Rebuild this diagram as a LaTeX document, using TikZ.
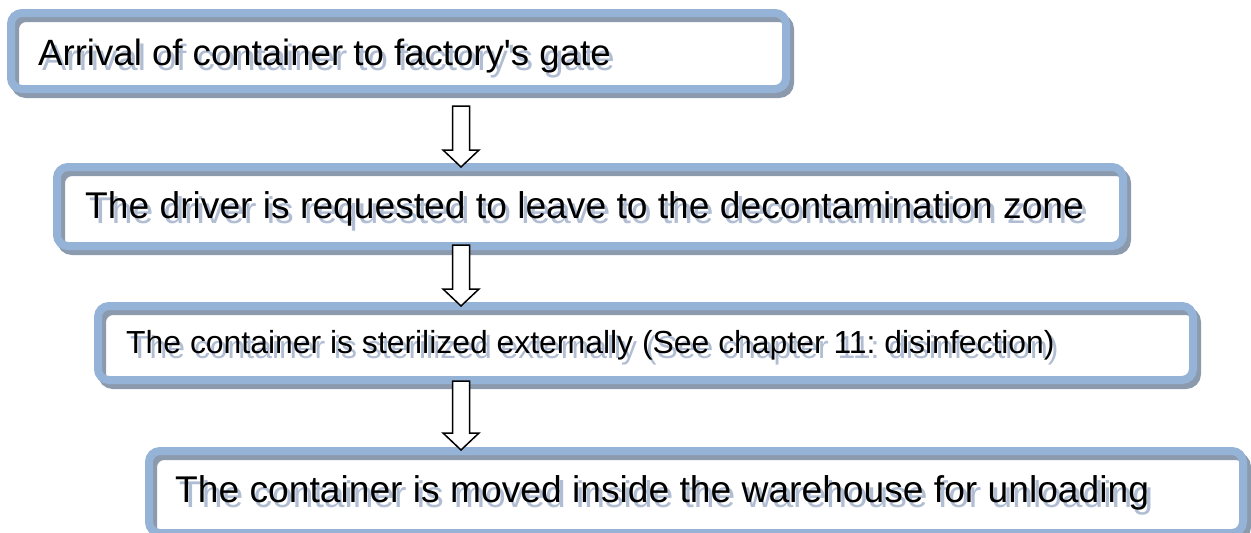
\documentclass[tikz,border=0pt]{standalone}
\usepackage{fontspec}
\setmainfont{Liberation Sans}[Ligatures=TeXOff]
\frenchspacing
\usetikzlibrary{calc}
\definecolor{boxblue}{RGB}{149,179,215}
\definecolor{boxshadow}{RGB}{140,154,174}
\definecolor{txtshadow}{RGB}{176,189,210}
\tikzset{
  boxborder/.style={draw=boxblue, line width=8pt, rounded corners=11pt},
  boxshade/.style={draw=boxshadow, line width=8pt, rounded corners=11pt},
  lbl/.style={anchor=base west, inner sep=0pt, text=black},
  lblshade/.style={anchor=base west, inner sep=0pt, text=txtshadow},
  blk/.style={draw=black, line width=1.5pt, fill=white, line join=miter}
}
\newcommand{\flowbox}[5]{%
  % #1 name, #2 left, #3 top, #4 right, #5 bottom
  \draw[boxshade] (#2+4,#3+5) rectangle (#4+4,#5+5);
  \draw[boxborder] (#2,#3) rectangle (#4,#5);
  \coordinate (#1) at ({(#2+#4)/2},{(#3+#5)/2});
}
\newcommand{\flowtext}[5]{%
  % #1 name, #2 x, #3 baseline y, #4 size, #5 text
  \node[lblshade, font=\fontsize{#4}{#4}\selectfont] at (#2+4,#3+5) {#5};
  \node[lbl, font=\fontsize{#4}{#4}\selectfont] (#1) at (#2,#3) {#5};
}
\newcommand{\hollowarrow}[2]{%
  \draw[blk] let \p1=(#1), \p2=(#2) in
    (\x1-8.5pt,\y1) -- (\x1-8.5pt,\y2+17pt) -- (\x1-18pt,\y2+17pt) -- (\x2,\y2)
    -- (\x1+18pt,\y2+17pt) -- (\x1+8.5pt,\y2+17pt) -- (\x1+8.5pt,\y1) -- cycle;
}
\begin{document}
\begin{tikzpicture}[x=1pt,y=-1pt]
\useasboundingbox (0,0) rectangle (1251,533);
\fill[white] (0,0) rectangle (1251,533);
\begin{scope}
\clip (0,0) rectangle (1251,533);
% boxes
\flowbox{b1}{11}{13}{786}{89}
\flowbox{b2}{57}{167}{1123}{246}
\flowbox{b3}{98}{306}{1193}{380}
\flowbox{b4}{149}{451}{1243}{533}
% texts
\flowtext{t1}{38}{65}{36.6}{Arrival of container to factory's gate}
\flowtext{t2}{85}{218}{37.2}{The driver is requested to leave to the decontamination zone}
\flowtext{t3}{126}{353}{31.9}{The container is sterilized externally (See chapter 11: disinfection)}
\flowtext{t4}{175}{502}{37.2}{The container is moved inside the warehouse for unloading}
% arrows
\coordinate (a1s) at (461,106);
\coordinate (a1e) at (461,167);
\coordinate (a2s) at (461,245);
\coordinate (a2e) at (461,306);
\coordinate (a3s) at (461,381);
\coordinate (a3e) at (461,450);
\hollowarrow{a1s}{a1e}
\hollowarrow{a2s}{a2e}
\hollowarrow{a3s}{a3e}
\end{scope}
\end{tikzpicture}
\end{document}
